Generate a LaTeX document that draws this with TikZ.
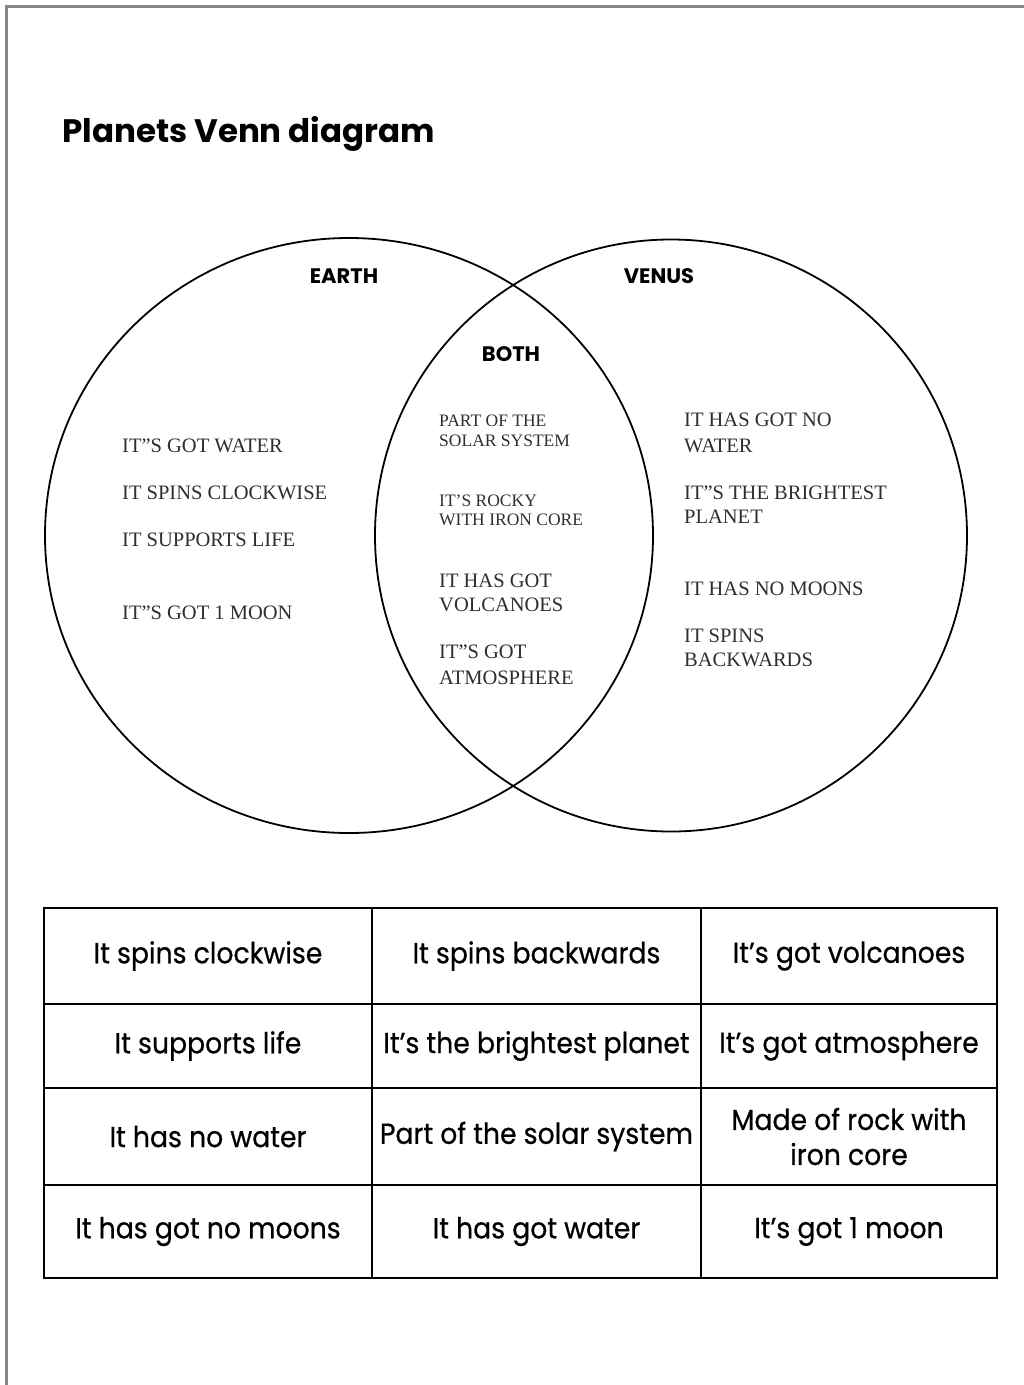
\documentclass[tikz,border=0pt]{standalone}
\usepackage{fontspec}
\setmainfont{Liberation Serif}
\newfontfamily\gothic[FakeStretch=0.92,FakeBold=0.6]{Poppins}
\newfontfamily\gothichead{Poppins}
\usepackage{tikz}
\usetikzlibrary{positioning,shapes.geometric}
\definecolor{framegray}{HTML}{858585}
\definecolor{inkgray}{HTML}{2E2E2E}
\tikzset{
  % rammen
  pageframe/.style={draw=framegray,line width=3pt},
  % venn
  ring/.style={draw=black,line width=1.8pt},
  setlabel/.style={font=\gothichead\bfseries\fontsize{21}{24}\selectfont,inner sep=0pt},
  fact/.style={anchor=west,align=left,inner sep=0pt,text=inkgray,
               font=\fontsize{20.5}{24}\selectfont},
  smallfact/.style={fact,font=\fontsize{17.5}{20}\selectfont},
  % tabellen
  cell/.style={draw=black,line width=1.6pt,inner sep=0pt,align=center,
               font=\gothic\fontsize{29}{35}\selectfont},
  colA/.style={cell,minimum width=328pt},
  colB/.style={cell,minimum width=329pt},
  colC/.style={cell,minimum width=296pt},
}
\begin{document}
\begin{tikzpicture}[x=1pt,y=-1pt]
  \useasboundingbox (0,0) rectangle (1024,1385);
  \draw[pageframe] (6,1385) -- (6,6) -- (1024,6);
  \node[font=\gothichead\bfseries\fontsize{32.5}{40}\selectfont,anchor=west,inner sep=0pt]
    (title) at (62,134) {Planets Venn diagram};
  % cirklarna
  \draw[ring] (349,535.5) ellipse [x radius=304,y radius=297.5];
  \draw[ring] (671,535.5) circle [radius=296];
  \node[setlabel] (earth) at (344,276) {EARTH};
  \node[setlabel] (venus) at (659,276) {VENUS};
  \node[setlabel] (both) at (511,354) {BOTH};
  % jorden
  \node[fact] (e1) at (122,446) {IT"S GOT WATER};
  \node[fact] (e2) at (122,493) {IT SPINS CLOCKWISE};
  \node[fact] (e3) at (122,540) {IT SUPPORTS LIFE};
  \node[fact] (e4) at (122,613) {IT"S GOT 1 MOON};
  % båda
  \node[smallfact] (b1) at (439,431) {PART OF THE\\SOLAR SYSTEM};
  \node[smallfact,font=\fontsize{17.5}{19}\selectfont] (b2) at (439,510.5) {IT'S ROCKY\\WITH IRON CORE};
  \node[fact] (b3) at (439,593) {IT HAS GOT\\VOLCANOES};
  \node[fact,font=\fontsize{20.5}{26}\selectfont] (b4) at (439,665) {IT"S GOT\\ATMOSPHERE};
  % venus
  \node[fact,font=\fontsize{20.5}{26}\selectfont] (v1) at (684,433) {IT HAS GOT NO\\WATER};
  \node[fact] (v2) at (684,505) {IT"S THE BRIGHTEST\\PLANET};
  \node[fact] (v3) at (684,589) {IT HAS NO MOONS};
  \node[fact] (v4) at (684,648) {IT SPINS\\BACKWARDS};
  % kort
  \node[colA,minimum height=96pt] (c11) at (208,956) {It spins clockwise};
  \node[colB,minimum height=96pt] (c12) at (536.5,956) {It spins backwards};
  \node[colC,minimum height=96pt] (c13) at (849,956) {It’s got volcanoes};
  \node[colA,minimum height=84pt] (c21) at (208,1046) {It supports life};
  \node[colB,minimum height=84pt] (c22) at (536.5,1046) {It’s the brightest planet};
  \node[colC,minimum height=84pt] (c23) at (849,1046) {It’s got atmosphere};
  \node[colA,minimum height=97pt] (c31) at (208,1136.5) {It has no water};
  \node[colB,minimum height=97pt] (c32) at (536.5,1136.5) {Part of the solar system};
  \node[colC,minimum height=97pt] (c33) at (849,1136.5) {Made of rock with\\iron core};
  \node[colA,minimum height=93pt] (c41) at (208,1231.5) {It has got no moons};
  \node[colB,minimum height=93pt] (c42) at (536.5,1231.5) {It has got water};
  \node[colC,minimum height=93pt] (c43) at (849,1231.5) {It’s got 1 moon};
\end{tikzpicture}
\end{document}
